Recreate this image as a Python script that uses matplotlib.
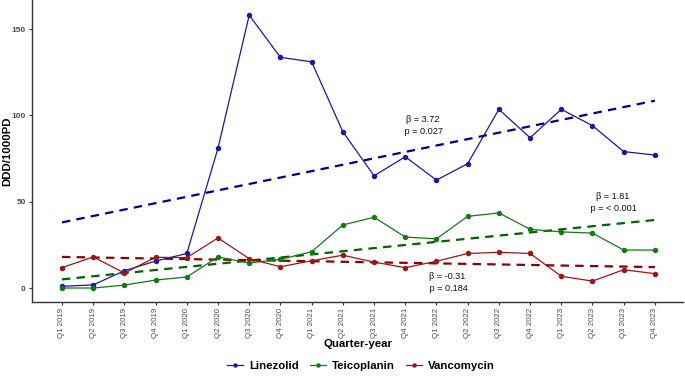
import matplotlib
matplotlib.use("Agg")
import matplotlib.pyplot as plt
from matplotlib.lines import Line2D
import numpy as np

quarters = ["Q1 2019", "Q2 2019", "Q3 2019", "Q4 2019",
            "Q1 2020", "Q2 2020", "Q3 2020", "Q4 2020",
            "Q1 2021", "Q2 2021", "Q3 2021", "Q4 2021",
            "Q1 2022", "Q2 2022", "Q3 2022", "Q4 2022",
            "Q1 2023", "Q2 2023", "Q3 2023", "Q4 2023"]

linezolid = [1.0, 1.8, 10.0, 15.6, 20.0, 81.0, 158.0, 133.6, 131.0, 90.5,
             65.0, 76.0, 62.5, 72.0, 103.5, 87.0, 103.5, 94.0, 79.0, 77.0]
teicoplanin = [0.0, 0.0, 1.7, 4.6, 6.4, 18.0, 14.5, 16.6, 21.0, 36.5,
               41.0, 29.5, 28.5, 41.5, 43.5, 34.0, 32.5, 31.8, 22.0, 22.0]
vancomycin = [11.8, 18.0, 8.7, 17.8, 17.6, 29.0, 17.0, 12.3, 15.8, 19.0,
              15.0, 11.8, 15.5, 20.0, 20.7, 20.0, 6.8, 4.0, 10.6, 8.3]

series_names = ["Linezolid", "Teicoplanin", "Vancomycin"]
series_colors = ["#1a1aa0", "#137a13", "#a01515"]
trend_colors = ["#00008B", "#006400", "#8B0000"]
# trend line values at first and last quarter
trend_start = [38.0, 5.0, 18.0]
trend_end = [108.5, 39.4, 12.1]
beta_labels = ["β = 3.72\n p = 0.027", "β = 1.81\n p = < 0.001", "β = -0.31\n p = 0.184"]
label_pos = [(11.55, 94.0), (17.65, 49.5), (12.35, 3.0)]

yticks = [0, 50, 100, 150]

fig = plt.figure(figsize=(6.85, 3.82), dpi=100)
ax = fig.add_axes([32/685, 80/382, 651/685, 302/382])

x = np.arange(len(quarters))
data = [linezolid, teicoplanin, vancomycin]
for vals, c in zip(data, series_colors):
    ax.plot(x, vals, color=c, lw=0.9, marker="o", ms=2.9, zorder=3)
for s, e, c in zip(trend_start, trend_end, trend_colors):
    ax.plot([x[0], x[-1]], [s, e], color=c, lw=1.6, dashes=(3.8, 2.8), zorder=2)
for lab, (px, py) in zip(beta_labels, label_pos):
    ax.text(px, py, lab, ha="center", va="center", fontsize=6.6,
            family="Liberation Sans", color="#111111", linespacing=1.45,
            multialignment="center")

ax.set_xlim(-0.96, 19.9)
ax.set_ylim(-8.1, 166.8)
ax.set_xticks(x)
ax.set_xticklabels(quarters, rotation=90, fontsize=5.7, family="Liberation Sans",
                   color="#4d4d4d")
ax.set_yticks(yticks)
ax.set_yticklabels([str(v) for v in yticks], fontsize=6.0, family="Liberation Sans",
                   color="#4d4d4d", fontweight="bold")
ax.tick_params(axis="both", length=2.5, width=0.8, color="#333333", pad=2)
for sp in ["top", "right"]:
    ax.spines[sp].set_visible(False)
for sp in ["left", "bottom"]:
    ax.spines[sp].set_color("#333333")
    ax.spines[sp].set_linewidth(1.0)
ax.set_ylabel("DDD/1000PD", fontsize=8.2, fontweight="bold", family="Liberation Sans")
ax.yaxis.set_label_coords(-20/651, 0.5)
ax.set_xlabel("Quarter-year", fontsize=8.2, fontweight="bold", family="Liberation Sans")
ax.xaxis.set_label_coords(0.5, -37/302)

handles = [Line2D([0], [0], color=c, lw=0.9, marker="o", ms=2.2) for c in series_colors]
leg = fig.legend(handles, series_names, loc="center", bbox_to_anchor=(361/685, 1 - 366/382),
                 ncol=3, frameon=False, handlelength=1.4, handletextpad=0.5,
                 columnspacing=1.0, prop={"family": "Liberation Sans", "weight": "bold", "size": 8.2})
fig.savefig("out.png", dpi=100)
